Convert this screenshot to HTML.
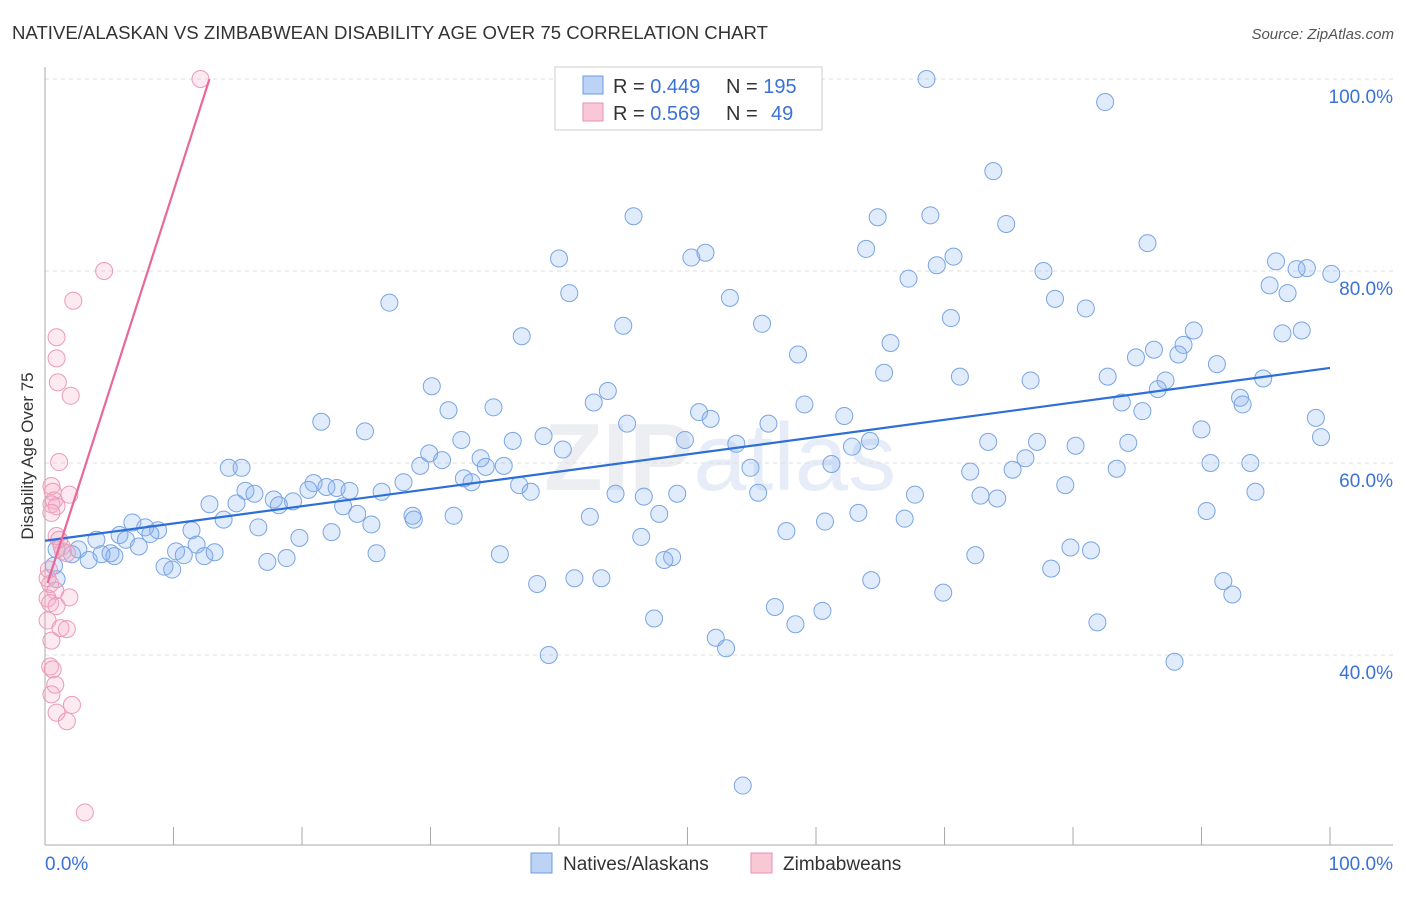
<!DOCTYPE html>
<html><head><meta charset="utf-8"><style>
body{margin:0;background:#fff;font-family:"Liberation Sans",sans-serif;}
svg text{font-family:"Liberation Sans",sans-serif;}
</style></head><body>
<svg id="chart" width="1406" height="892" xmlns="http://www.w3.org/2000/svg">
<text x="12" y="39" font-size="18.6" fill="#333">NATIVE/ALASKAN VS ZIMBABWEAN DISABILITY AGE OVER 75 CORRELATION CHART</text>
<text x="1394" y="39" font-size="15" fill="#555" text-anchor="end" font-style="italic">Source: ZipAtlas.com</text>
<text x="720" y="490" font-size="96" fill="#eceef2" text-anchor="middle" font-family="Liberation Serif" font-weight="bold">ZIP<tspan fill="#e6edf8" font-family="Liberation Sans" font-weight="normal">atlas</tspan></text>
<g id="grid"></g><g id="axes"></g>
<text transform="translate(33,456) rotate(-90)" font-size="17" fill="#333" text-anchor="middle">Disability Age Over 75</text>
<g id="marks"></g>
<g>
<rect x="555" y="67" width="267" height="63" fill="#fff" stroke="#ccc"/>
<rect x="583" y="76" width="20" height="18" fill="#bcd3f5" stroke="#6a9be0"/>
<rect x="583" y="103" width="20" height="18" fill="#f9c8d7" stroke="#e890b0"/>
<text x="613" y="93" font-size="20" fill="#333">R = <tspan fill="#3a72d8">0.449</tspan></text>
<text x="726" y="93" font-size="20" fill="#333">N = <tspan fill="#3a72d8">195</tspan></text>
<text x="613" y="120" font-size="20" fill="#333">R = <tspan fill="#3a72d8">0.569</tspan></text>
<text x="726" y="120" font-size="20" fill="#333">N = </text>
<text x="771" y="120" font-size="20" fill="#3a72d8">49</text>
</g>
<g>
<rect x="531" y="853" width="21" height="20" fill="#bcd3f5" stroke="#6a9be0"/>
<text x="563" y="870" font-size="19" fill="#333">Natives/Alaskans</text>
<rect x="751" y="853" width="21" height="20" fill="#f9c8d7" stroke="#e890b0"/>
<text x="783" y="870" font-size="19" fill="#333">Zimbabweans</text>
</g>
</svg>
<script>
const yTicks=[100,80,60,40];
const yTickLabels=["100.0%","80.0%","60.0%","40.0%"];
const xTicks=[0,10,20,30,40,50,60,70,80,90,100];
const blueX=[68.6,82.5,73.8,45.8,64.8,68.9,74.8,85.8,63.9,40.0,50.3,51.4,70.7,69.4,95.8,98.2,97.4,100.1,77.7,67.2,95.3,96.7,40.8,53.3,78.6,26.8,81.0,70.5,45.0,55.8,89.4,97.8,96.3,37.1,65.8,88.6,86.3,88.2,84.9,58.6,91.2,65.3,71.2,82.7,76.7,87.2,94.8,86.6,30.1,43.8,93.0,93.2,83.8,59.1,42.7,34.9,85.4,31.4,50.9,51.8,62.2,98.9,45.3,56.3,21.5,90.0,24.9,38.8,99.3,32.4,36.4,49.8,53.8,64.2,73.4,77.2,84.3,80.2,62.8,29.9,40.3,30.9,33.9,76.3,93.8,90.7,14.3,15.3,29.2,34.3,35.7,54.9,61.2,83.4,75.3,72.0,32.6,33.2,27.9,20.9,21.9,22.7,20.5,23.7,36.9,79.4,15.6,16.3,26.2,37.8,44.4,46.6,49.2,55.5,67.7,72.8,74.1,94.2,17.8,18.2,19.3,14.9,12.8,23.2,24.3,25.4,28.6,28.7,31.8,42.4,47.8,63.3,66.9,60.7,90.4,13.9,16.6,22.3,19.8,6.8,7.8,8.8,8.2,11.4,5.8,6.3,57.7,46.4,4.0,11.8,7.3,0.9,2.6,5.1,5.4,4.4,2.1,3.4,10.2,10.8,12.4,13.2,25.8,35.4,18.8,17.3,79.8,81.4,72.4,48.8,48.2,9.3,9.9,78.3,0.7,0.9,64.3,91.7,41.2,43.3,38.3,92.4,69.9,56.8,60.5,47.4,81.9,58.4,52.2,53.0,39.2,87.9,54.3];
const blueY=[100,97.6,90.4,85.7,85.6,85.8,84.9,82.9,82.3,81.3,81.4,81.9,81.5,80.6,81.0,80.3,80.2,79.7,80.0,79.2,78.5,77.7,77.7,77.2,77.1,76.7,76.1,75.1,74.3,74.5,73.8,73.8,73.5,73.2,72.5,72.3,71.8,71.3,71.0,71.3,70.3,69.4,69.0,69.0,68.6,68.6,68.8,67.7,68.0,67.5,66.8,66.1,66.3,66.1,66.3,65.8,65.4,65.5,65.3,64.6,64.9,64.7,64.1,64.1,64.3,63.5,63.3,62.8,62.7,62.4,62.3,62.4,62.0,62.3,62.2,62.2,62.1,61.8,61.7,61.0,61.4,60.3,60.5,60.5,60.0,60.0,59.5,59.5,59.7,59.6,59.7,59.5,59.9,59.4,59.3,59.1,58.4,58.0,58.0,57.9,57.5,57.4,57.2,57.1,57.7,57.7,57.1,56.8,57.0,57.0,56.8,56.5,56.8,56.9,56.7,56.6,56.3,57.0,56.2,55.6,56.0,55.8,55.7,55.5,54.7,53.6,54.5,54.1,54.5,54.4,54.7,54.8,54.2,53.9,55.0,54.1,53.3,52.8,52.2,53.8,53.3,53.0,52.6,53.0,52.5,52.0,52.9,52.3,52.0,51.5,51.3,51.0,51.0,50.6,50.3,50.5,50.5,49.9,50.8,50.4,50.3,50.7,50.6,50.5,50.1,49.7,51.2,50.9,50.4,50.2,49.9,49.2,48.9,49.0,49.3,47.9,47.8,47.7,48.0,48.0,47.4,46.3,46.5,45.0,44.6,43.8,43.4,43.2,41.8,40.7,40.0,39.3,26.4];
const pinkX=[12.1,4.6,2.2,0.9,0.9,1.0,2.0,1.1,0.5,0.6,1.9,0.7,0.5,0.9,0.5,0.9,1.1,1.3,1.4,1.7,0.3,0.2,0.4,0.8,1.9,0.2,0.4,0.9,0.2,1.2,1.7,0.5,0.4,0.6,0.8,0.5,2.1,0.9,1.7,3.1];
const pinkY=[100,80,76.9,73.1,70.9,68.4,67.0,60.1,57.6,57.0,56.7,56.1,55.7,55.5,54.8,52.4,52.0,51.3,50.8,50.6,48.9,48.0,47.4,46.7,46.0,45.9,45.4,45.1,43.6,42.8,42.7,41.5,38.8,38.5,36.9,35.9,34.8,34.0,33.1,23.6];
const blueTrendX=[0,100], blueTrendY=[51.9,69.9];
const pinkTrendX=[0.2,12.8], pinkTrendY=[47.5,100];

const NS="http://www.w3.org/2000/svg";
const X=v=>45+v*12.85, Y=v=>79+(100-v)*9.6;
function mk(tag,attrs,parent){const e=document.createElementNS(NS,tag);for(const k in attrs)e.setAttribute(k,attrs[k]);document.getElementById(parent).appendChild(e);return e;}
yTicks.forEach((t,i)=>{
  const g=mk('line',{x1:45,x2:1393,y1:Y(t),y2:Y(t),stroke:'#ddd','stroke-dasharray':'4,4'},'grid');
  
  
  const l=mk('text',{x:1393,y:Y(t)+24,'font-size':19,fill:'#3a72d8','text-anchor':'end'},'axes');
  l.textContent=yTickLabels[i];
  
  
});
let a=mk('line',{x1:45,x2:45,y1:67,y2:845,stroke:'#aaa'},'axes');


a=mk('line',{x1:45,x2:1393,y1:845,y2:845,stroke:'#aaa'},'axes');


xTicks.forEach(t=>{const k=mk('line',{x1:X(t),x2:X(t),y1:827,y2:845,stroke:'#aaa'},'axes');
  
  });
let xl=mk('text',{x:45,y:870,'font-size':19,fill:'#3a72d8'},'axes');xl.textContent='0.0%';


xl=mk('text',{x:1393,y:870,'font-size':19,fill:'#3a72d8','text-anchor':'end'},'axes');xl.textContent='100.0%';


blueX.forEach((v,i)=>{const c=mk('circle',{cx:X(v),cy:Y(blueY[i]),r:8.5,fill:'rgba(130,175,240,0.25)',stroke:'#7aa5e3','stroke-width':1},'marks');
  
  });
pinkX.forEach((v,i)=>{const c=mk('circle',{cx:X(v),cy:Y(pinkY[i]),r:8.5,fill:'rgba(245,170,195,0.25)',stroke:'#ec9ab8','stroke-width':1},'marks');
  
  });
let tl=mk('line',{x1:X(blueTrendX[0]),y1:Y(blueTrendY[0]),x2:X(blueTrendX[1]),y2:Y(blueTrendY[1]),stroke:'#2d6fd6','stroke-width':2.2},'marks');


tl=mk('line',{x1:X(pinkTrendX[0]),y1:Y(pinkTrendY[0]),x2:X(pinkTrendX[1]),y2:Y(pinkTrendY[1]),stroke:'#e8689a','stroke-width':2.2},'marks');


</script>
</body></html>
